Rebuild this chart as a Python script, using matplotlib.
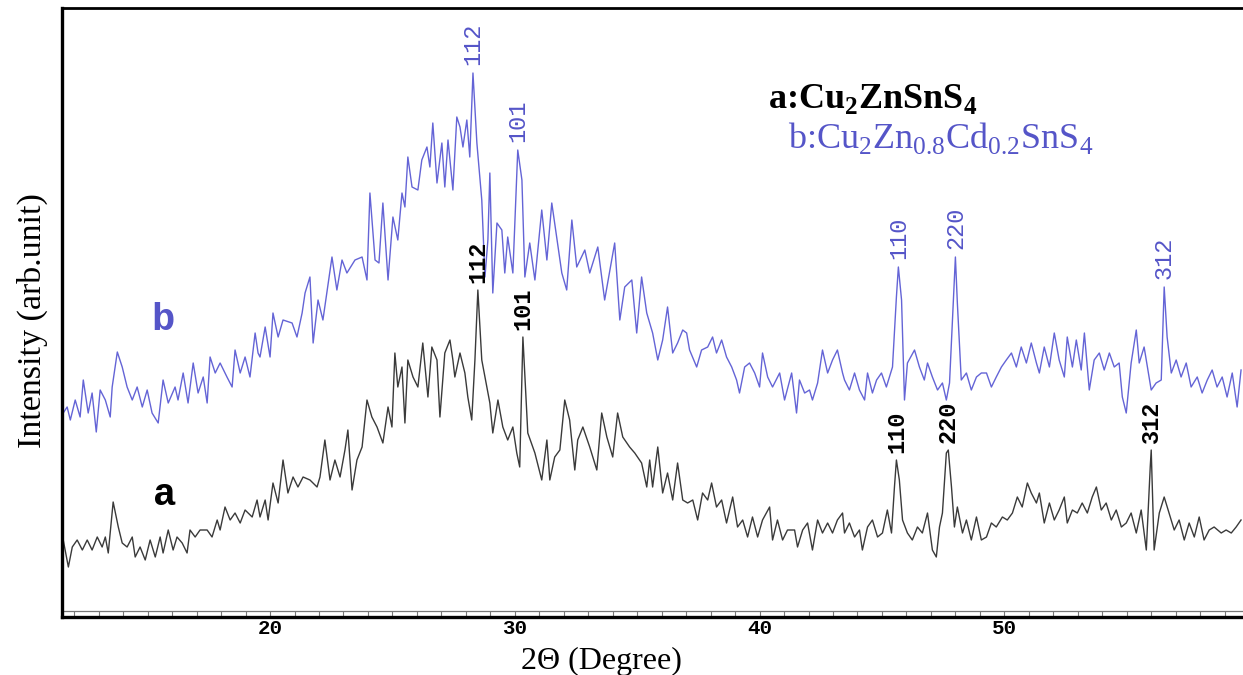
import numpy as np
import matplotlib
matplotlib.use("Agg")
import matplotlib.pyplot as plt
from matplotlib.ticker import MultipleLocator

plt.rcParams['mathtext.fontset'] = 'custom'
plt.rcParams['mathtext.rm'] = 'Liberation Serif'
plt.rcParams['mathtext.bf'] = 'Liberation Serif:bold'

# ---- Curve b : Cu2Zn0.8Cd0.2SnS4 (2theta in degree, intensity arb. unit) ----
b_x = [11.55, 11.71, 11.84, 12.04, 12.24, 12.37, 12.57, 12.73, 12.90, 13.06, 13.27, 13.47, 13.55, 13.76,
       13.96, 14.16, 14.37, 14.57, 14.78, 14.98, 15.18, 15.43, 15.63, 15.84, 16.12, 16.24, 16.45, 16.65,
       16.86, 17.06, 17.27, 17.43, 17.55, 17.76, 17.96, 18.24, 18.45, 18.57, 18.78, 18.98, 19.18, 19.39,
       19.51, 19.59, 19.80, 20.00, 20.12, 20.33, 20.53, 20.90, 21.10, 21.31, 21.43, 21.63, 21.76, 21.96,
       22.16, 22.53, 22.73, 22.94, 23.14, 23.47, 23.76, 23.96, 24.08, 24.29, 24.45, 24.61, 24.82, 25.02,
       25.22, 25.39, 25.51, 25.63, 25.80, 26.04, 26.20, 26.41, 26.53, 26.65, 26.82, 27.02, 27.14, 27.27,
       27.47, 27.63, 27.76, 27.88, 28.04, 28.16, 28.29, 28.45, 28.65, 28.78, 28.90, 28.98, 29.10, 29.27,
       29.47, 29.59, 29.71, 29.92, 30.12, 30.29, 30.41, 30.61, 30.82, 31.10, 31.31, 31.51, 31.71, 31.92,
       32.12, 32.33, 32.53, 32.86, 33.06, 33.39, 33.67, 34.08, 34.29, 34.49, 34.78, 34.98, 35.18, 35.39,
       35.63, 35.84, 36.04, 36.24, 36.45, 36.65, 36.86, 37.02, 37.14, 37.43, 37.63, 37.88, 38.08, 38.24,
       38.45, 38.65, 38.86, 39.06, 39.18, 39.39, 39.59, 39.80, 40.00, 40.12, 40.33, 40.53, 40.82, 41.02,
       41.31, 41.51, 41.63, 41.84, 42.04, 42.16, 42.37, 42.57, 42.78, 42.98, 43.18, 43.39, 43.47, 43.67,
       43.88, 44.08, 44.29, 44.41, 44.61, 44.78, 44.98, 45.18, 45.43, 45.59, 45.67, 45.80, 45.92, 46.04,
       46.33, 46.53, 46.73, 46.86, 47.06, 47.27, 47.47, 47.63, 47.76, 47.88, 48.00, 48.08, 48.24, 48.45,
       48.65, 48.86, 49.06, 49.27, 49.47, 49.67, 49.88, 50.08, 50.29, 50.49, 50.69, 50.90, 51.10, 51.31,
       51.43, 51.63, 51.84, 52.04, 52.24, 52.45, 52.57, 52.78, 52.94, 53.14, 53.27, 53.47, 53.67, 53.88,
       54.08, 54.29, 54.49, 54.69, 54.82, 54.98, 55.18, 55.39, 55.51, 55.71, 56.00, 56.20, 56.41, 56.53,
       56.65, 56.82, 57.02, 57.22, 57.43, 57.63, 57.88, 58.08, 58.29, 58.49, 58.69, 58.90, 59.10, 59.31,
       59.51, 59.67]
b_y = [199, 205, 192, 212, 195, 232, 199, 219, 180, 222, 212, 195, 225, 260,
       245, 225, 212, 225, 205, 222, 199, 189, 232, 209, 225, 212, 239, 209,
       249, 219, 235, 209, 255, 239, 249, 235, 225, 262, 239, 255, 235, 279,
       259, 255, 285, 255, 299, 275, 292, 289, 275, 299, 319, 335, 269, 312,
       292, 355, 322, 352, 339, 352, 355, 332, 419, 352, 349, 409, 332, 395,
       372, 419, 405, 455, 425, 422, 452, 465, 445, 489, 429, 469, 425, 472,
       422, 495, 485, 465, 492, 455, 539, 469, 412, 335, 372, 439, 319, 389,
       382, 339, 375, 339, 462, 432, 335, 369, 332, 402, 352, 409, 375, 339,
       322, 392, 345, 362, 339, 365, 312, 369, 292, 325, 332, 279, 335, 299,
       279, 252, 272, 305, 259, 269, 282, 279, 262, 245, 262, 265, 275, 259,
       272, 255, 245, 232, 219, 245, 249, 239, 225, 259, 235, 225, 239, 212,
       239, 199, 232, 219, 222, 212, 229, 262, 239, 252, 262, 239, 232, 222,
       239, 222, 212, 239, 219, 232, 239, 225, 245, 315, 345, 312, 212, 249,
       262, 245, 232, 249, 235, 222, 229, 212, 229, 292, 355, 309, 232, 239,
       222, 235, 239, 239, 225, 235, 245, 252, 259, 245, 265, 249, 269, 249,
       239, 265, 245, 279, 252, 235, 275, 245, 272, 242, 279, 222, 252, 259,
       242, 259, 245, 249, 215, 199, 249, 282, 249, 265, 222, 229, 232, 325,
       275, 239, 252, 235, 249, 225, 235, 219, 232, 242, 225, 235, 215, 239,
       205, 242]

# ---- Curve a : Cu2ZnSnS4 ----
a_x = [11.55, 11.76, 11.92, 12.12, 12.33, 12.53, 12.73, 12.94, 13.14, 13.27, 13.39, 13.59, 13.80, 13.96,
       14.16, 14.37, 14.49, 14.69, 14.90, 15.10, 15.31, 15.51, 15.63, 15.84, 16.04, 16.20, 16.41, 16.61,
       16.73, 16.94, 17.14, 17.43, 17.63, 17.84, 17.96, 18.16, 18.37, 18.57, 18.78, 18.98, 19.27, 19.47,
       19.59, 19.80, 19.92, 20.12, 20.33, 20.53, 20.73, 20.94, 21.14, 21.35, 21.63, 21.92, 22.04, 22.24,
       22.45, 22.65, 22.86, 23.06, 23.18, 23.35, 23.55, 23.76, 23.96, 24.16, 24.37, 24.61, 24.82, 24.98,
       25.10, 25.22, 25.39, 25.51, 25.63, 25.84, 26.04, 26.24, 26.45, 26.61, 26.82, 26.94, 27.14, 27.35,
       27.47, 27.55, 27.76, 27.96, 28.08, 28.24, 28.37, 28.49, 28.65, 28.78, 28.98, 29.10, 29.31, 29.51,
       29.71, 29.92, 30.08, 30.20, 30.33, 30.53, 30.82, 31.10, 31.31, 31.43, 31.63, 31.84, 32.04, 32.24,
       32.45, 32.57, 32.78, 33.06, 33.35, 33.55, 33.76, 34.00, 34.20, 34.41, 34.69, 34.90, 35.18, 35.39,
       35.51, 35.63, 35.84, 36.04, 36.24, 36.45, 36.65, 36.86, 37.06, 37.27, 37.47, 37.67, 37.88, 38.04,
       38.24, 38.45, 38.65, 38.90, 39.10, 39.31, 39.51, 39.71, 39.92, 40.12, 40.41, 40.53, 40.73, 40.94,
       41.14, 41.43, 41.55, 41.76, 41.96, 42.16, 42.37, 42.57, 42.78, 42.98, 43.18, 43.39, 43.47, 43.67,
       43.88, 44.08, 44.20, 44.41, 44.61, 44.82, 45.02, 45.22, 45.39, 45.51, 45.59, 45.71, 45.84, 46.04,
       46.24, 46.45, 46.65, 46.86, 47.06, 47.22, 47.35, 47.47, 47.63, 47.71, 47.84, 47.96, 48.08, 48.29,
       48.45, 48.65, 48.86, 49.06, 49.27, 49.47, 49.67, 49.92, 50.12, 50.33, 50.53, 50.73, 50.94, 51.10,
       51.31, 51.43, 51.63, 51.84, 52.04, 52.24, 52.45, 52.57, 52.78, 52.98, 53.18, 53.39, 53.59, 53.76,
       53.96, 54.16, 54.37, 54.57, 54.78, 54.98, 55.18, 55.39, 55.59, 55.80, 55.96, 56.00, 56.12, 56.33,
       56.53, 56.73, 56.94, 57.14, 57.35, 57.55, 57.76, 57.96, 58.16, 58.37, 58.57, 58.86, 59.06, 59.27,
       59.47, 59.67]
a_y = [72, 45, 65, 72, 62, 72, 62, 75, 65, 75, 59, 110, 85, 69,
       65, 75, 55, 65, 52, 72, 55, 75, 59, 82, 62, 75, 69, 59,
       82, 75, 82, 82, 75, 92, 82, 105, 92, 99, 89, 102, 95, 112,
       95, 112, 92, 129, 109, 152, 119, 135, 125, 135, 132, 125, 135, 172,
       132, 152, 135, 162, 182, 122, 152, 165, 212, 195, 185, 169, 205, 185,
       259, 225, 245, 189, 252, 235, 225, 269, 215, 265, 252, 195, 259, 272,
       252, 235, 259, 239, 215, 192, 252, 322, 252, 235, 209, 179, 212, 185,
       172, 185, 159, 145, 275, 179, 159, 132, 172, 132, 155, 162, 212, 192,
       142, 172, 185, 165, 142, 199, 175, 155, 199, 175, 165, 159, 149, 125,
       152, 125, 165, 119, 139, 112, 149, 112, 109, 112, 92, 119, 112, 129,
       105, 112, 89, 115, 85, 92, 75, 95, 75, 92, 105, 72, 92, 72,
       82, 82, 65, 82, 89, 62, 92, 79, 89, 79, 92, 99, 79, 89,
       75, 82, 62, 85, 92, 75, 79, 102, 79, 125, 152, 132, 92, 79,
       72, 85, 79, 99, 62, 55, 85, 99, 159, 162, 125, 85, 105, 79,
       92, 72, 95, 72, 75, 89, 85, 95, 92, 99, 115, 105, 129, 119,
       109, 119, 89, 109, 92, 102, 115, 89, 102, 99, 109, 99, 115, 125,
       102, 109, 92, 102, 85, 89, 99, 79, 102, 62, 145, 162, 62, 99,
       115, 99, 82, 92, 72, 89, 75, 95, 72, 82, 85, 79, 82, 79,
       85, 92]

# ---- Peak indexing ----
a_peaks = [28.49, 30.33, 45.59, 47.71, 56.00]
a_peak_labels = ["112", "101", "110", "220", "312"]
b_peaks = [28.29, 30.12, 45.67, 48.00, 56.53]
b_peak_labels = ["112", "101", "110", "220", "312"]

col_a = "#3a3a3a"
col_b = "#6464d6"
col_b_text = "#5555c8"

fig = plt.figure(figsize=(12.43, 6.75), dpi=100)
ax = fig.add_axes([62/1243, 1-617/675, 1-62/1243, (617-8)/675])

ax.plot(a_x, a_y, color=col_a, lw=1.0)
ax.plot(b_x, b_y, color=col_b, lw=1.0)

for xp, lab in zip(a_peaks, a_peak_labels):
    yp = np.interp(xp, a_x, a_y)
    ax.annotate(lab, (xp, yp), xytext=(0, 5), textcoords="offset points",
                rotation=90, ha="center", va="bottom", fontsize=17,
                family="Liberation Mono", fontweight="bold", color="black")
for xp, lab in zip(b_peaks, b_peak_labels):
    yp = np.interp(xp, b_x, b_y)
    ax.annotate(lab, (xp, yp), xytext=(0, 6), textcoords="offset points",
                rotation=90, ha="center", va="bottom", fontsize=17,
                family="Liberation Mono", color=col_b_text)

ax.set_xlim(11.5, 59.75)
ax.set_ylim(-5, 604)

ax.spines["right"].set_visible(False)
ax.spines["left"].set_linewidth(2.4)
ax.spines["bottom"].set_linewidth(2.4)
ax.spines["top"].set_linewidth(2.0)

ax.set_yticks([])
ax.xaxis.set_major_locator(MultipleLocator(10))
ax.xaxis.set_minor_locator(MultipleLocator(1))
ax.tick_params(axis="x", which="both", direction="in", length=4.5, width=0.8,
               color="#777777", top=False)
ax.tick_params(axis="x", which="major", pad=1.5)
for t in ax.get_xticklabels():
    t.set_fontfamily("Liberation Mono")
    t.set_fontweight("bold")
    t.set_fontsize(15)
# ruler line above the bottom ticks
ax.plot([0, 1], [0.0105, 0.0105], transform=ax.transAxes, color="#777777", lw=0.9,
        clip_on=False)

# curve letters
ax.text(0.0855, 0.471, "b", transform=ax.transAxes, ha="center", va="baseline",
        fontsize=28, family="Liberation Mono", fontweight="bold", color=col_b_text)
ax.text(0.0872, 0.184, "a", transform=ax.transAxes, ha="center", va="baseline",
        fontsize=28, family="Liberation Mono", fontweight="bold", color="black")

# composition legend
ax.text(0.598, 0.836, r"a:Cu$_\mathbf{2}$ZnSnS$_\mathbf{4}$", transform=ax.transAxes,
        ha="left", va="baseline", fontsize=26, family="Liberation Serif",
        fontweight="bold", color="black")
ax.text(0.615, 0.770, r"b:Cu$_\mathrm{2}$Zn$_\mathrm{0.8}$Cd$_\mathrm{0.2}$SnS$_\mathrm{4}$",
        transform=ax.transAxes, ha="left", va="baseline", fontsize=26,
        family="Liberation Serif", color=col_b_text)

fig.text(601/1243, 1-669/675, "2Θ (Degree)", ha="center", va="baseline",
         fontsize=23, family="Liberation Serif")
fig.text(32/1243, 1-321/675, "Intensity (arb.unit)", ha="center", va="center",
         rotation=90, fontsize=24.5, family="Liberation Serif")

fig.savefig("out.png", dpi=100)
